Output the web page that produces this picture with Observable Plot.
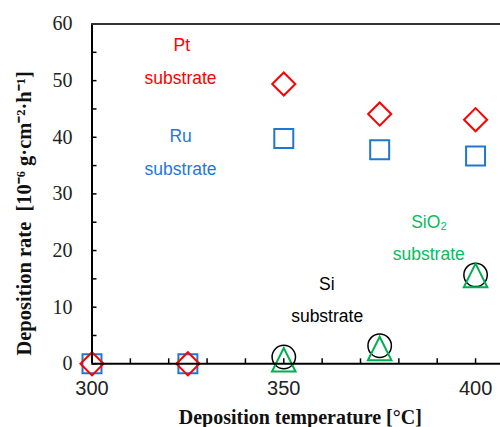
<!DOCTYPE html>
<html>
<head>
<meta charset="utf-8">
<script src="https://cdn.jsdelivr.net/npm/d3@7"></script>
<script src="https://cdn.jsdelivr.net/npm/@observablehq/plot@0.6"></script>
<style>
  html, body { margin: 0; padding: 0; background: #fff; }
  svg { overflow: visible; }
</style>
</head>
<body>
<div id="chart"></div>
<script>
// ---- data ----
const temps = [300, 325, 350, 375, 400];
const ptRate = [0, 0, 49.4, 44.1, 43.1];
const ruRate = [0, 0, 39.8, 37.8, 36.7];
const siTemps = [350, 375, 400];
const siRate = [1.2, 3.2, 15.7];
const sio2Rate = [0.7, 2.7, 15.6];

const yMajorTicks = [0, 10, 20, 30, 40, 50, 60];
const yMinorTicks = [0, 5, 10, 15, 20, 25, 30, 35, 40, 45, 50, 55, 60];
const xMajorTicks = [300, 350, 400];
const xMinorTicks = [310, 320, 330, 340, 350, 360, 370, 380, 390, 400];

const labelText = ["Pt", "substrate", "Ru", "substrate", "SiO\u2082", "substrate", "Si", "substrate"];
const labelX = [323.4, 323.1, 323.1, 323.1, 387.9, 387.8, 361.2, 361.3];
const labelY = [56.2, 50.4, 40.1, 34.3, 24.9, 19.3, 14.0, 8.35];
const labelColor = ["#ff0000", "#ff0000", "#1f77e0", "#1f77e0", "#00c060", "#00c060", "#000000", "#000000"];

const xTitle = "Deposition temperature [\u00b0C]";
const yTitle = "Deposition rate\u00a0 [10\u207b\u2076 g\u00b7cm\u207b\u00b2\u00b7h\u207b\u00b9]";

// ---- tables ----
const pt = temps.map((t, i) => ({t, v: ptRate[i]}));
const ru = temps.map((t, i) => ({t, v: ruRate[i]}));
const si = siTemps.map((t, i) => ({t, v: siRate[i]}));
const sio2 = siTemps.map((t, i) => ({t, v: sio2Rate[i]}));
const labels = labelText.map((s, i) => ({s, x: labelX[i], y: labelY[i], c: labelColor[i]}));

// upright triangle centred on its bounding box
const triangle = {
  draw(context, size) {
    const s = Math.sqrt(size);
    context.moveTo(0, -s / 2);
    context.lineTo(s / 2, s / 2);
    context.lineTo(-s / 2, s / 2);
    context.closePath();
  }
};

const chart = Plot.plot({
  width: 500,
  height: 427,
  marginLeft: 91.5,
  marginRight: 0,
  marginTop: 23.5,
  marginBottom: 63.7,
  x: {domain: [300, 406.5]},
  y: {domain: [0, 60]},
  style: {background: "#fff"},
  marks: [
    // markers
    Plot.dot(ru, {x: "t", y: "v", symbol: "square", r: 10.7, stroke: "#1f78d0", strokeWidth: 2, fill: "none"}),
    Plot.dot(pt, {x: "t", y: "v", symbol: "diamond2", r: 10.4, stroke: "#ff0000", strokeWidth: 2, fill: "none"}),
    Plot.dot(si, {x: "t", y: "v", symbol: "circle", r: 11.7, stroke: "#000", strokeWidth: 1.5, fill: "none"}),
    Plot.dot(sio2, {x: "t", y: "v", symbol: triangle, r: 13.3, stroke: "#00b050", strokeWidth: 2, fill: "none"}),
    // axes
    Plot.axisY({ticks: yMinorTicks, tickSize: -5, tickFormat: () => "", strokeWidth: 1.5}),
    Plot.axisY({ticks: yMajorTicks, tickSize: 0, tickPadding: 19.5, fontSize: 20, fontFamily: "Liberation Serif", fill: "#222"}),
    Plot.axisX({ticks: xMinorTicks, tickSize: -5, tickFormat: () => "", strokeWidth: 1.5}),
    Plot.axisX({ticks: xMajorTicks, tickSize: 0, tickPadding: 17, fontSize: 20, fontFamily: "Liberation Sans", fill: "#222", label: null}),
    Plot.ruleY([0], {stroke: "#000", strokeWidth: 2}),
    Plot.ruleX([300], {stroke: "#000", strokeWidth: 2}),
    Plot.ruleY([60], {stroke: "#333", strokeWidth: 2}),
    // annotations
    Plot.text(labels, {x: "x", y: "y", text: "s", fill: "c", fontSize: 17.5, fontFamily: "Liberation Sans"}),
    // titles
    Plot.text([xTitle], {frameAnchor: "bottom", textAnchor: "middle", lineAnchor: "middle", dx: 4, dy: 54, fontSize: 20, fontWeight: "bold", fontFamily: "Liberation Serif", fill: "#111"}),
    Plot.text([yTitle], {frameAnchor: "left", textAnchor: "middle", lineAnchor: "middle", rotate: -90, dx: -67.5, dy: 19.5, fontSize: 20.5, fontWeight: "bold", fontFamily: "Liberation Serif", fill: "#111"})
  ]
});
document.getElementById("chart").appendChild(chart);
</script>
</body>
</html>
